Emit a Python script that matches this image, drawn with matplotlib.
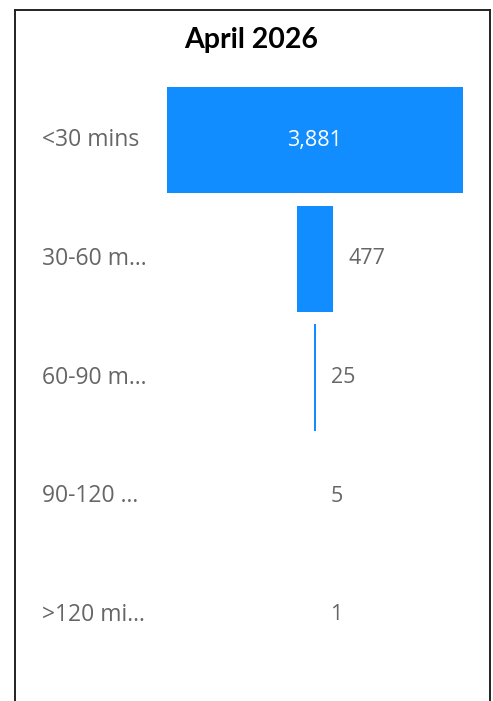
import matplotlib
matplotlib.use('Agg')
import matplotlib.pyplot as plt
from matplotlib.lines import Line2D
from matplotlib.transforms import blended_transform_factory

# trip duration buckets and their counts
categories = ['<30 mins', '30-60 m...', '60-90 m...', '90-120 ...', '>120 mi...']
counts = [3881, 477, 25, 5, 1]
value_labels = ['3,881', '477', '25', '5', '1']
title = 'April 2026'

W, H = 493, 701
BAR_COLOR = '#118DFF'
TEXT_GRAY = '#666666'


def main():
    fig = plt.figure(figsize=(W / 100, H / 100), dpi=100)
    fig.patch.set_facecolor('white')

    # funnel axes: widest bar spans the full axes width
    left, right = 167, 463
    top, bottom = 81, 674
    ax = fig.add_axes([left / W, 1 - bottom / H, (right - left) / W, (bottom - top) / H])
    vmax = max(counts)
    ax.set_xlim(-vmax / 2, vmax / 2)
    ax.set_ylim(len(counts) - 0.5, -0.5)
    ax.axis('off')

    for i, (c, lab) in enumerate(zip(counts, value_labels)):
        ax.barh(i, c, left=-c / 2, height=0.895, color=BAR_COLOR, linewidth=0)
        if i == 0:
            ax.text(0, i, lab, ha='center', va='center', color='white',
                    fontsize=15.5, family='Open Sans')
        else:
            ax.annotate(lab, xy=(c / 2, i), xytext=(15, 0), textcoords='offset pixels',
                        ha='left', va='center', color=TEXT_GRAY, fontsize=15.5,
                        family='Open Sans')

    # category names sit at a fixed left margin
    trans = blended_transform_factory(fig.transFigure, ax.transData)
    for i, name in enumerate(categories):
        ax.text(42 / W, i, name, transform=trans, ha='left', va='center',
                color=TEXT_GRAY, fontsize=16.5, family='Open Sans', clip_on=False)

    fig.text(251 / W, 1 - 40 / H, title, ha='center', va='center',
             fontsize=20.5, fontweight='bold', family='Lato', color='black')

    # frame around the visual (open at the bottom)
    x0, x1, y0 = 14.5 / W, 489.5 / W, 1 - 9.5 / H
    for xs, ys in [([x0, x0], [0, y0]), ([x0, x1], [y0, y0]), ([x1, x1], [y0, 0])]:
        fig.add_artist(Line2D(xs, ys, transform=fig.transFigure, color='#222222', lw=1.4))

    fig.savefig('out.png', dpi=100)


if __name__ == '__main__':
    main()
